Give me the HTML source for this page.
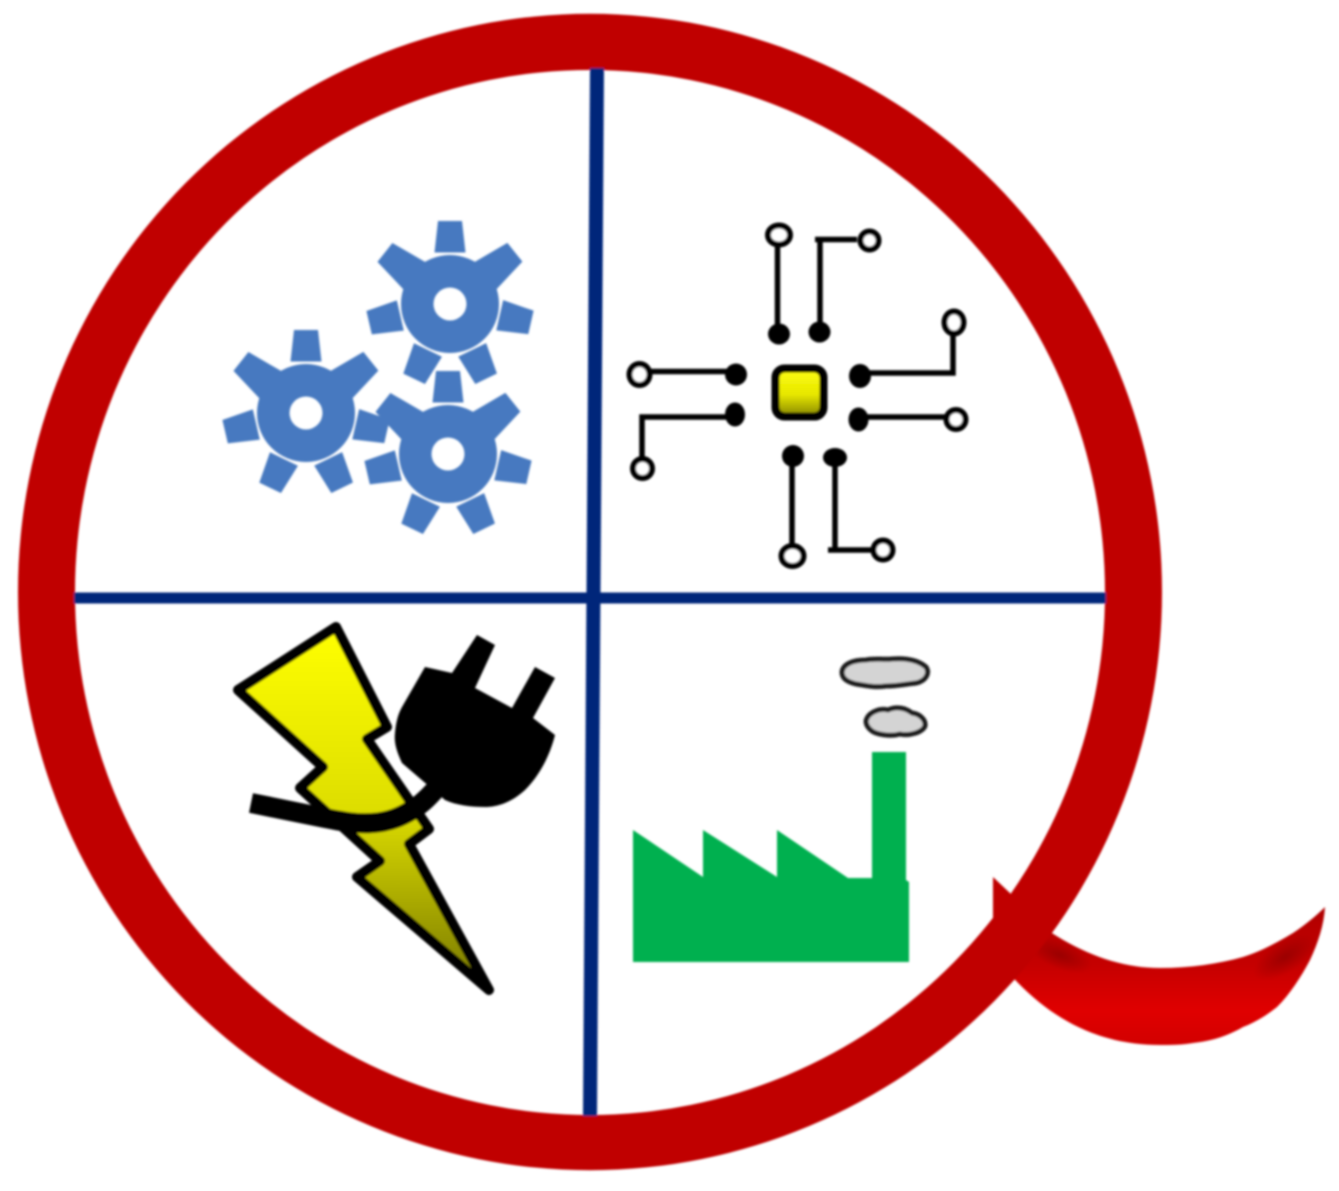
<!DOCTYPE html>
<html lang="en">
<head>
<meta charset="utf-8">
<title>Quadrant Q logo</title>
<style>
html,body{margin:0;padding:0;background:#fff;width:1339px;height:1191px;overflow:hidden}
svg{display:block}
</style>
</head>
<body>
<svg xmlns="http://www.w3.org/2000/svg" width="1339" height="1191" viewBox="0 0 1339 1191">
<defs>
<linearGradient id="boltGrad" x1="0" y1="0" x2="0" y2="1">
<stop offset="0" stop-color="#ffff00"/><stop offset="0.5" stop-color="#dede00"/><stop offset="1" stop-color="#777700"/>
</linearGradient>
<linearGradient id="chipGrad" x1="0" y1="0" x2="0" y2="1">
<stop offset="0" stop-color="#ffff10"/><stop offset="0.55" stop-color="#e6e600"/><stop offset="1" stop-color="#858500"/>
</linearGradient>
<linearGradient id="tailGrad" x1="0" y1="0" x2="0" y2="1">
<stop offset="0" stop-color="#b00000"/><stop offset="0.4" stop-color="#c40000"/><stop offset="0.75" stop-color="#e00000"/><stop offset="1" stop-color="#d20000"/>
</linearGradient>
<radialGradient id="tailShade" cx="0.5" cy="0.5" r="0.5">
<stop offset="0" stop-color="#8a0000" stop-opacity="0.7"/><stop offset="1" stop-color="#8a0000" stop-opacity="0"/>
</radialGradient>
<clipPath id="tailClip">
<path d="M1040 925C1078 952 1118 968 1160 968C1190 968 1218 964 1243 957C1262 951 1278 942 1293 933C1305 925 1316 916 1325 907C1324 925 1318 943 1310 960C1301 977 1290 994 1277 1007C1267 1015 1256 1022 1243 1027C1226 1037 1210 1041 1193 1043C1182 1045 1171 1045 1160 1045C1100 1045 1050 1020 1008 972Z"/>
</clipPath>
<filter id="soft" x="-5%" y="-5%" width="110%" height="110%"><feGaussianBlur stdDeviation="1.1"/></filter>
<g id="gear">
<path fill-rule="evenodd" fill="#4679c0" d="M-49 0A49 49 0 1 0 49 0A49 49 0 1 0 -49 0ZM-16.500 0A16.500 16.500 0 1 1 16.500 0A16.500 16.500 0 1 1 -16.500 0Z"/>
<path fill="#4679c0" d="M-12 -83L12 -83L15.500 -51.500L-15.500 -51.500Z"/>
<path fill="#4679c0" transform="rotate(51.4)" d="M-12 -83L12 -83L18 -42L-18 -42Z"/>
<path fill="#4679c0" transform="rotate(102.8)" d="M-12 -83L12 -83L15.500 -51L-15.500 -51Z"/>
<path fill="#4679c0" transform="rotate(154.2)" d="M-12 -83L12 -83L15.500 -51L-15.500 -51Z"/>
<path fill="#4679c0" transform="rotate(205.6)" d="M-12 -83L12 -83L15.500 -51L-15.500 -51Z"/>
<path fill="#4679c0" transform="rotate(257)" d="M-12 -83L12 -83L15.500 -51L-15.500 -51Z"/>
<path fill="#4679c0" transform="rotate(308.4)" d="M-12 -83L12 -83L18 -42L-18 -42Z"/>
</g>
</defs>
<rect width="1339" height="1191" fill="#ffffff"/>
<g filter="url(#soft)">
<path fill="url(#tailGrad)" d="M1040 925C1078 952 1118 968 1160 968C1190 968 1218 964 1243 957C1262 951 1278 942 1293 933C1305 925 1316 916 1325 907C1324 925 1318 943 1310 960C1301 977 1290 994 1277 1007C1267 1015 1256 1022 1243 1027C1226 1037 1210 1041 1193 1043C1182 1045 1171 1045 1160 1045C1100 1045 1050 1020 1008 972Z"/>
<g clip-path="url(#tailClip)">
<ellipse cx="1285" cy="957" rx="36" ry="16" fill="url(#tailShade)" transform="rotate(-32 1285 957)"/>
<ellipse cx="1060" cy="955" rx="34" ry="14" fill="url(#tailShade)" transform="rotate(22 1060 955)"/>
</g>
<path fill="#c00000" d="M993 877L1012 895L1002 935L993 922Z"/>
<path fill="#c00000" fill-rule="evenodd" d="M18 592A572 578 0 1 0 1162 592A572 578 0 1 0 18 592ZM75 592.500A515 522.500 0 1 1 1105 592.500A515 522.500 0 1 1 75 592.500Z"/>
<line x1="597" y1="68" x2="590" y2="1116" stroke="#05267a" stroke-width="14"/>
<line x1="74" y1="598" x2="1106" y2="598" stroke="#05267a" stroke-width="11"/>

<g>
<use href="#gear" x="450" y="304"/>
<use href="#gear" x="306" y="413"/>
<use href="#gear" x="448" y="454"/>
</g>

<g fill="none" stroke="#000" stroke-width="5.500">
<rect x="775.500" y="368.500" width="48" height="48" rx="9" fill="url(#chipGrad)" stroke-width="8"/>
<path d="M777.500 245V334M820 334V239.500H815M820 239.500H857M736 371.500H650M735 417H642V458M860 373H953V332M858 417H946M792 456V546M835 457V550H828M835 550H873"/>
<g fill="#000" stroke="none">
<ellipse cx="779" cy="334" rx="11" ry="10.500"/><ellipse cx="819.500" cy="332" rx="11" ry="10.500"/>
<ellipse cx="736" cy="374.500" rx="11" ry="11"/><ellipse cx="735" cy="414.500" rx="10" ry="12"/>
<ellipse cx="860" cy="376" rx="11" ry="12"/><ellipse cx="858.500" cy="419.500" rx="10" ry="12"/>
<ellipse cx="793" cy="456" rx="11" ry="11"/><ellipse cx="835" cy="457.500" rx="12" ry="9.500"/>
</g>
<g fill="#fff" stroke-width="6">
<ellipse cx="779" cy="235" rx="11" ry="9.500"/><circle cx="869.500" cy="240.500" r="9"/>
<ellipse cx="954" cy="322.500" rx="9.500" ry="11"/><ellipse cx="639.500" cy="374.500" rx="10" ry="10.500"/>
<circle cx="642.500" cy="468.500" r="9.500"/><circle cx="956" cy="419.500" r="9.500"/>
<ellipse cx="792.500" cy="556" rx="11" ry="10"/><circle cx="883" cy="550" r="9.500"/>
</g>
</g>

<g>
<path fill="url(#boltGrad)" stroke="#000" stroke-width="10" stroke-linejoin="round" d="M336 627L387 727L367 739L429 829L409 844L489 990L357 877L380 861L300 788L323 767L238 690Z"/>
<path fill="#000" d="M477 635L495 645L475 688L512 708L535 667L555 678L533 718L555 735C550 755 540 775 525 790C512 802 498 807 485 807C470 807 456 805 445 800L402 763C396 750 394 742 395 733C396 722 398 714 402 707L425 667L452 673Z"/>
<path fill="none" stroke="#000" stroke-width="20" d="M251 803L325 818C345 822 358 824 372 823C390 822 402 816 412 810C422 804 430 796 440 784"/>
</g>

<g>
<path fill="#00b050" d="M633 830L703 877V830L777 877V830L848 878H872V752H906V880L909 882V962H633Z"/>
<path fill="#d4d4d4" stroke="#1c1c1c" stroke-width="5" stroke-linejoin="round" d="M842 672C843 664 853 660 866 660C874 658 884 660 892 659C905 658 918 660 926 667C930 673 926 681 916 683C906 684 898 686 886 686C874 688 864 685 856 684C848 682 842 679 842 672Z"/>
<path fill="#d4d4d4" stroke="#1c1c1c" stroke-width="5" stroke-linejoin="round" d="M866 721C868 712 880 708 888 710C896 706 906 708 912 713C920 714 926 720 925 726C922 733 908 736 900 734C890 737 876 734 872 731C868 728 866 725 866 721Z"/>
</g>
</g>
</svg>
</body>
</html>
